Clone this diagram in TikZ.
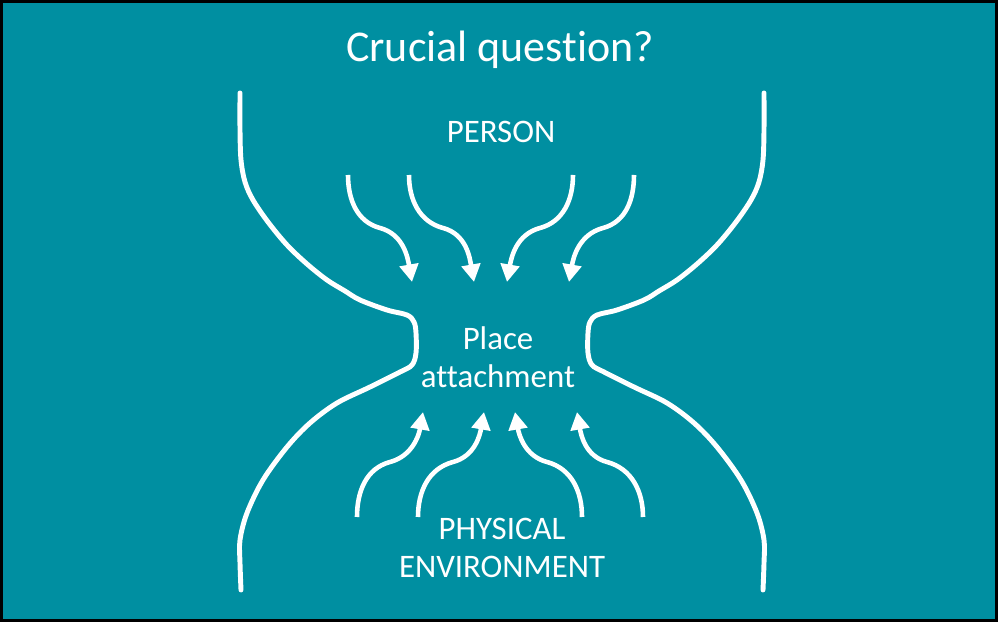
\documentclass[tikz,border=0pt]{standalone}
\usepackage{fontspec}
\setmainfont{Carlito}[Ligatures=NoCommon]
\usetikzlibrary{arrows.meta}
\definecolor{teal}{RGB}{0,143,161}

\begin{document}
\begin{tikzpicture}[x=0.02cm,y=0.02cm]
\tikzstyle{every node}+=[text=white,inner sep=0pt]
\tikzstyle{bigtext}=[font=\fontsize{25pt}{30pt}\selectfont]
\tikzstyle{label}=[font=\fontsize{18.7pt}{21.5pt}\selectfont,align=center]
\tikzstyle{waist}=[white,line width=2.8pt,line cap=round]
\tikzstyle{flow}=[white,line width=2.6pt,-{Triangle[width=10.5pt,length=10pt]}]
\fill [teal] (0,0) rectangle (998,622);
\draw [black,line width=1.7pt] (1.5,1.5) rectangle (996.5,620.5);
\node [bigtext,anchor=base] (question) at (500,560) {Crucial question?};
\node [label,anchor=base] (person) at (501,479) {PERSON};
\node [label] (place) at (498,265) {Place\\attachment};
\node [label] (physical) at (502,74) {PHYSICAL\\ENVIRONMENT};
\draw [waist] plot [smooth,tension=0.55] coordinates {(240,529) (240,492) (241,462) (245,440) (253,422) (268,400) (287,377) (307,358) (327,342) (345,331) (360,322) (387,312) (407,307) (414,300) (416,289) (416,269) (412,257) (400,250) (370,235) (337,219) (310,199) (287,175) (263,142) (247,109) (240,82) (240,59) (241,32)};
\draw [waist] plot [smooth,tension=0.55] coordinates {(764,529) (764,492) (763,462) (759,440) (751,422) (736,400) (717,377) (697,358) (677,342) (659,331) (644,322) (617,312) (597,307) (590,300) (588,289) (588,269) (592,257) (604,250) (634,235) (667,219) (694,199) (717,175) (741,142) (757,109) (764,82) (764,59) (763,32)};
\coordinate (t1a) at (348,447);
\coordinate (t1b) at (380,394);
\coordinate (t1c) at (412,340);
\coordinate (t2a) at (409,447);
\coordinate (t2b) at (443,394);
\coordinate (t2c) at (474,340);
\coordinate (t3a) at (573,447);
\coordinate (t3b) at (540,394);
\coordinate (t3c) at (507,340);
\coordinate (t4a) at (634,447);
\coordinate (t4b) at (603,394);
\coordinate (t4c) at (569,340);
\draw [flow] (t1a) to [out=-90,in=165] (t1b) to [out=-15,in=100] (t1c);
\draw [flow] (t2a) to [out=-90,in=165] (t2b) to [out=-15,in=100] (t2c);
\draw [flow] (t3a) to [out=-90,in=15] (t3b) to [out=195,in=80] (t3c);
\draw [flow] (t4a) to [out=-90,in=15] (t4b) to [out=195,in=80] (t4c);
\coordinate (b1a) at (357,105);
\coordinate (b1b) at (390,160);
\coordinate (b1c) at (423,210);
\coordinate (b2a) at (418,105);
\coordinate (b2b) at (453,160);
\coordinate (b2c) at (484,210);
\coordinate (b3a) at (582,105);
\coordinate (b3b) at (547,160);
\coordinate (b3c) at (515,210);
\coordinate (b4a) at (643,105);
\coordinate (b4b) at (607,160);
\coordinate (b4c) at (577,210);
\draw [flow] (b1a) to [out=90,in=195] (b1b) to [out=15,in=-100] (b1c);
\draw [flow] (b2a) to [out=90,in=195] (b2b) to [out=15,in=-100] (b2c);
\draw [flow] (b3a) to [out=90,in=-15] (b3b) to [out=165,in=-80] (b3c);
\draw [flow] (b4a) to [out=90,in=-15] (b4b) to [out=165,in=-80] (b4c);
\end{tikzpicture}
\end{document}
